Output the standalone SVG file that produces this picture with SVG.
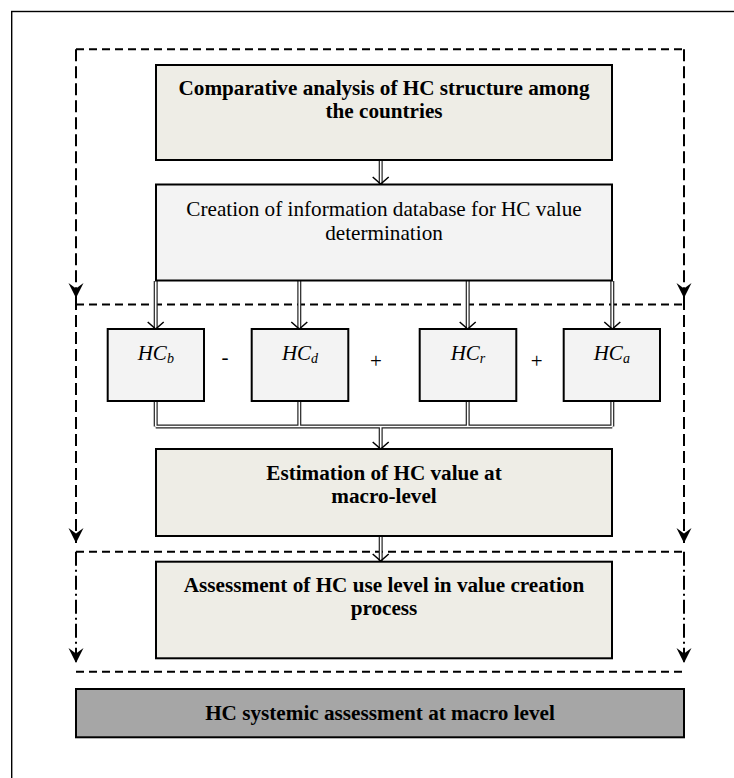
<svg xmlns="http://www.w3.org/2000/svg" width="734" height="778" viewBox="0 0 734 778">
<style>
  .frame{fill:none;stroke:#000;stroke-width:1.4}
  .box{stroke:#000;stroke-width:2}
  .beige{fill:#eeede6}
  .light{fill:#f3f3f3}
  .gray{fill:#a6a6a6}
  .dash{fill:none;stroke:#000;stroke-width:2;stroke-dasharray:8 5}
  .vdash{fill:none;stroke:#000;stroke-width:2;stroke-dasharray:12 5}
  .ddash{fill:none;stroke:#000;stroke-width:2;stroke-dasharray:14 4 2 4}
  .dblo{fill:none;stroke:#222;stroke-width:4}
  .dbli{fill:none;stroke:#fff;stroke-width:1.6}
  .vhead{fill:none;stroke:#000;stroke-width:1.5}
  text{font-family:"Liberation Serif","Times New Roman",serif;font-size:21.2px;fill:#000;text-anchor:middle}
  .b{font-weight:bold}
  .it{font-style:italic;font-size:21px}
  .sub{font-size:14px}
  .op{font-size:21px}
</style>
<defs>
  <marker id="dh" markerUnits="userSpaceOnUse" viewBox="0 0 16 16" markerWidth="16" markerHeight="16" refX="15" refY="8" orient="auto">
    <path d="M0,0.5 L15,8 L0,15.5 L5.5,8 Z" fill="#000"/>
  </marker>
</defs>

<rect class="frame" x="11.7" y="11.5" width="800" height="900"/>

<g id="zones">
  <path class="dash" d="M76,49.3 H684"/>
  <path class="dash" d="M76,304.5 H684"/>
  <path class="dash" d="M76,551.7 H684"/>
  <path class="dash" d="M76,671.7 H684"/>
  <path class="vdash" d="M76,49.3 V298" marker-end="url(#dh)"/>
  <path class="vdash" d="M684,49.3 V298" marker-end="url(#dh)"/>
  <path class="vdash" d="M76,298 V543" marker-end="url(#dh)"/>
  <path class="vdash" d="M684,298 V543" marker-end="url(#dh)"/>
  <path class="ddash" d="M76,551.7 V663" marker-end="url(#dh)"/>
  <path class="ddash" d="M684,551.7 V663" marker-end="url(#dh)"/>
</g>

<g id="connectors">
  <path class="dblo" d="M380.7,160 V184 M155.7,281 V329 M299.3,281 V329 M467.7,281 V329 M612.3,281 V329 M155.7,401 V426.5 M299.3,401 V426.5 M467.7,401 V426.5 M612.3,401 V426.5 M155.7,426.5 H612.3 M380.7,426.5 V449 M380.7,536 V561"/>
  <path class="dbli" d="M380.7,160 V183 M155.7,281 V328 M299.3,281 V328 M467.7,281 V328 M612.3,281 V328 M155.7,402 V426.5 M299.3,402 V426.5 M467.7,402 V426.5 M612.3,402 V426.5 M155.7,426.5 H612.3 M380.7,426.5 V448 M380.7,537 V560"/>
  <polyline class="vhead" points="372.7,177 380.7,184 388.7,177"/>
  <polyline class="vhead" points="147.7,322 155.7,329 163.7,322"/>
  <polyline class="vhead" points="291.3,322 299.3,329 307.3,322"/>
  <polyline class="vhead" points="459.7,322 467.7,329 475.7,322"/>
  <polyline class="vhead" points="604.3,322 612.3,329 620.3,322"/>
  <polyline class="vhead" points="372.7,442 380.7,449 388.7,442"/>
  <polyline class="vhead" points="372.7,554 380.7,561 388.7,554"/>
</g>

<g id="n-comparative">
  <rect class="box beige" x="156" y="65" width="456" height="95"/>
  <text class="b" x="384" y="95">Comparative analysis of HC structure among</text>
  <text class="b" x="384" y="118">the countries</text>
</g>

<g id="n-database">
  <rect class="box light" x="156" y="184.5" width="456" height="96"/>
  <text x="384" y="216">Creation of information database for HC value</text>
  <text x="384" y="240">determination</text>
</g>

<g id="n-hcb">
  <rect class="box light" x="107.7" y="329" width="96.3" height="72"/>
  <text class="it" x="155.8" y="360">HC<tspan class="sub" dy="3">b</tspan></text>
</g>
<g id="n-hcd">
  <rect class="box light" x="251.7" y="329" width="96.6" height="72"/>
  <text class="it" x="300" y="360">HC<tspan class="sub" dy="3">d</tspan></text>
</g>
<g id="n-hcr">
  <rect class="box light" x="419.7" y="329" width="96.6" height="72"/>
  <text class="it" x="468" y="360">HC<tspan class="sub" dy="3">r</tspan></text>
</g>
<g id="n-hca">
  <rect class="box light" x="563.7" y="329" width="96.3" height="72"/>
  <text class="it" x="611.8" y="360">HC<tspan class="sub" dy="3">a</tspan></text>
</g>

<g id="operators">
  <text class="op" x="225" y="364">-</text>
  <text class="op" x="376" y="368">+</text>
  <text class="op" x="536.7" y="368">+</text>
</g>

<g id="n-estimation">
  <rect class="box beige" x="156" y="449" width="456" height="87"/>
  <text class="b" x="384" y="480">Estimation of HC value at</text>
  <text class="b" x="384" y="503">macro-level</text>
</g>

<g id="n-assessment">
  <rect class="box beige" x="156" y="561.7" width="456" height="96.6"/>
  <text class="b" x="384" y="591.7">Assessment of HC use level in value creation</text>
  <text class="b" x="384" y="615">process</text>
</g>

<g id="n-systemic">
  <rect class="box gray" x="76" y="689" width="608" height="48.3"/>
  <text class="b" x="380" y="720">HC systemic assessment at macro level</text>
</g>
</svg>
